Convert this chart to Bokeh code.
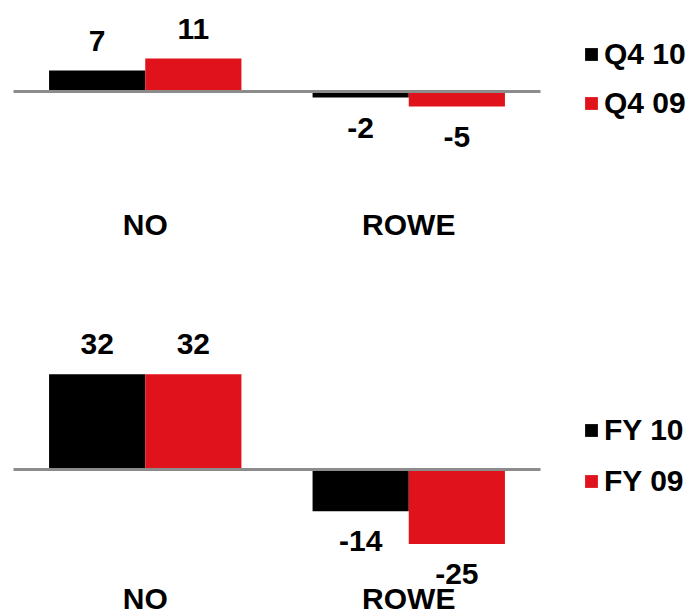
from bokeh.plotting import figure
from bokeh.models import ColumnDataSource, Range1d, Legend, LegendItem
from bokeh.layouts import column
from bokeh.core.properties import value
from bokeh.embed import file_html
from bokeh.resources import INLINE

categories = ["NO", "ROWE"]

q_series = ["Q4 10", "Q4 09"]
q4_10 = [7, -2]
q4_09 = [11, -5]

fy_series = ["FY 10", "FY 09"]
fy_10 = [32, -14]
fy_09 = [32, -25]

BLACK = "#000000"
RED = "#E0121C"
GRAY = "#8C8C8C"
FONT = "Liberation Sans"
BAR_W = 0.365
PX_PER_CAT = 263.5
LEFT_PAD = 13
W = 696


def make_panel(series_names, vals_a, vals_b, height, px_per_unit, zero_px, cat_label_up,
               legend_loc, legend_spacing):
    x_start = -LEFT_PAD / PX_PER_CAT
    x_end = x_start + W / PX_PER_CAT
    y_end = zero_px / px_per_unit
    y_start = -(height - zero_px) / px_per_unit
    p = figure(
        x_range=Range1d(x_start, x_end),
        y_range=Range1d(y_start, y_end),
        width=W, height=height,
        output_backend="svg", toolbar_location=None,
        x_axis_location=None, y_axis_location=None,
        min_border=0,
    )
    p.outline_line_color = None
    p.xgrid.visible = False
    p.ygrid.visible = False
    p.background_fill_color = "white"
    p.border_fill_color = "white"

    centers = [i + 0.5 for i in range(len(categories))]

    renderers = []
    for vals, color, off in ((vals_a, BLACK, -BAR_W / 2), (vals_b, RED, BAR_W / 2)):
        src = ColumnDataSource(dict(
            x=[c + off for c in centers],
            val=vals,
            txt=[str(v) for v in vals],
            yoff=[-30 if v >= 0 else 30 for v in vals],
        ))
        r = p.vbar(x="x", top="val", bottom=0, width=BAR_W, source=src,
                   fill_color=color, line_color=None)
        renderers.append(r)
        p.text(x="x", y="val", text="txt", source=src,
               y_offset="yoff", text_align="center", text_baseline="middle",
               text_font=value(FONT), text_font_style="bold", text_font_size="30px",
               text_color="black")

    # zero baseline across the category area
    p.segment(x0=[0], x1=[len(categories)], y0=[0], y1=[0], line_color=GRAY, line_width=3)

    # category labels (x axis labels)
    cat_src = ColumnDataSource(dict(x=centers, y=[y_start] * len(categories), txt=categories))
    p.text(x="x", y="y", text="txt", source=cat_src, y_offset=-cat_label_up,
           text_align="center", text_baseline="middle",
           text_font=value(FONT), text_font_style="bold", text_font_size="30px",
           text_color="black")

    legend = Legend(
        items=[LegendItem(label=series_names[0], renderers=[renderers[0]]),
               LegendItem(label=series_names[1], renderers=[renderers[1]])],
        location=legend_loc,
        orientation="vertical",
        padding=0, margin=0, spacing=legend_spacing,
        glyph_width=16, glyph_height=16, label_standoff=5,
        label_text_font=FONT, label_text_font_style="bold", label_text_font_size="30px",
        label_text_color="black",
        border_line_color=None, background_fill_alpha=0,
    )
    p.add_layout(legend)
    return p


top = make_panel(q_series, q4_10, q4_09, 255, 3.0, 91, 31, (583, 135), 15)
bottom = make_panel(fy_series, fy_10, fy_09, 361, 2.98, 214, 18, (583, 118), 17)

layout = column(top, bottom, spacing=0)
open("out.html", "w").write(file_html(layout, INLINE))
